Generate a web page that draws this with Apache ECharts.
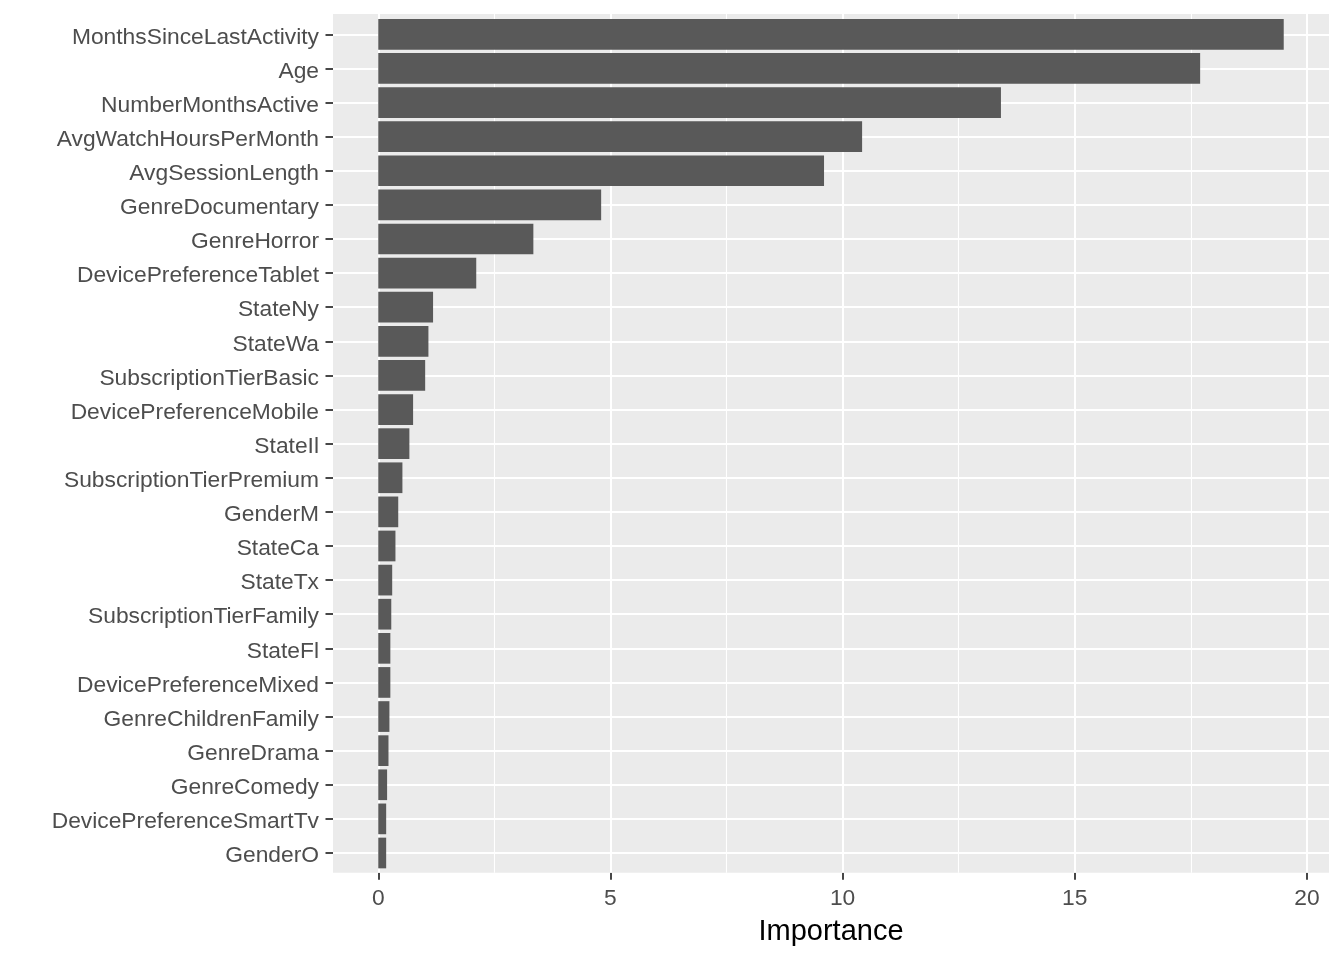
<!DOCTYPE html>
<html>
<head>
<meta charset="utf-8">
<title>Importance</title>
<script src="https://cdn.jsdelivr.net/npm/echarts@6/dist/echarts.min.js"></script>
<style>
html,body{margin:0;padding:0;background:#fff;}
#main{width:1344px;height:960px;}
</style>
</head>
<body>
<div id="main"></div>
<script type="text/javascript">
// 特征名称（从上到下）
var features = ['MonthsSinceLastActivity', 'Age', 'NumberMonthsActive', 'AvgWatchHoursPerMonth',
    'AvgSessionLength', 'GenreDocumentary', 'GenreHorror', 'DevicePreferenceTablet', 'StateNy',
    'StateWa', 'SubscriptionTierBasic', 'DevicePreferenceMobile', 'StateIl', 'SubscriptionTierPremium',
    'GenderM', 'StateCa', 'StateTx', 'SubscriptionTierFamily', 'StateFl', 'DevicePreferenceMixed',
    'GenreChildrenFamily', 'GenreDrama', 'GenreComedy', 'DevicePreferenceSmartTv', 'GenderO'];
// 重要性
var importance = [19.50, 17.70, 13.41, 10.42, 9.60, 4.80, 3.34, 2.11, 1.18,
    1.08, 1.01, 0.75, 0.67, 0.52, 0.43, 0.37, 0.30, 0.28, 0.26, 0.26,
    0.24, 0.22, 0.19, 0.17, 0.17];
var majorTicks = [0, 5, 10, 15, 20];
var minorTicks = [2.5, 7.5, 12.5, 17.5];
var xMin = -0.975, xMax = 20.475;

var font = "'Liberation Sans', Arial, sans-serif";
var myChart = echarts.init(document.getElementById('main'));

var vLines = majorTicks.map(function (v) {
    return {xAxis: v, lineStyle: {width: 2}};
}).concat(minorTicks.map(function (v) {
    return {xAxis: v, lineStyle: {width: 1.1}};
}));
var hLines = features.map(function (f) {
    return {yAxis: f};
});

var option = {
    animation: false,
    textStyle: {fontFamily: font},
    grid: [
        // 灰色面板
        {left: 333, top: 14, width: 996, height: 858.7, show: true, backgroundColor: '#EBEBEB', borderWidth: 0},
        // 条形
        {left: 333, top: 17.25, width: 996, height: 852.8}
    ],
    xAxis: [
        {
            gridIndex: 0, type: 'value', min: xMin, max: xMax,
            name: 'Importance', nameLocation: 'middle', nameGap: 45,
            nameTextStyle: {color: '#000', fontSize: 29, fontFamily: font},
            axisLine: {show: true, onZero: false, lineStyle: {color: 'rgba(0,0,0,0)'}},
            axisTick: {show: true, length: 7, customValues: majorTicks, lineStyle: {color: '#333', width: 1.8}},
            axisLabel: {customValues: majorTicks, color: '#4D4D4D', fontSize: 22.8, margin: 15, fontFamily: font},
            splitLine: {show: false}
        },
        {
            gridIndex: 1, type: 'value', min: xMin, max: xMax, show: false
        }
    ],
    yAxis: [
        {gridIndex: 0, type: 'value', show: false, min: 0, max: 1},
        {
            gridIndex: 1, type: 'category', inverse: true, data: features,
            axisLine: {show: true, onZero: false, lineStyle: {color: 'rgba(0,0,0,0)'}},
            axisTick: {show: true, alignWithLabel: true, length: 7.5, lineStyle: {color: '#333', width: 1.8}},
            axisLabel: {color: '#4D4D4D', fontSize: 22.8, margin: 14, verticalAlign: 'top', lineHeight: 6, fontFamily: font},
            splitLine: {show: false}
        }
    ],
    series: [
        {
            // 竖向网格线
            type: 'line', xAxisIndex: 0, yAxisIndex: 0, data: [], silent: true,
            markLine: {z: 1, silent: true, symbol: 'none', label: {show: false},
                lineStyle: {color: '#fff', type: 'solid'}, data: vLines}
        },
        {
            // 横向网格线
            type: 'line', xAxisIndex: 1, yAxisIndex: 1, data: [], silent: true,
            markLine: {z: 1, silent: true, symbol: 'none', label: {show: false},
                lineStyle: {color: '#fff', width: 2, type: 'solid'}, data: hLines}
        },
        {
            name: 'Importance', type: 'bar', xAxisIndex: 1, yAxisIndex: 1, z: 3,
            barCategoryGap: '10%', silent: true,
            itemStyle: {color: '#595959'},
            data: importance
        }
    ]
};
myChart.setOption(option);
</script>
</body>
</html>
